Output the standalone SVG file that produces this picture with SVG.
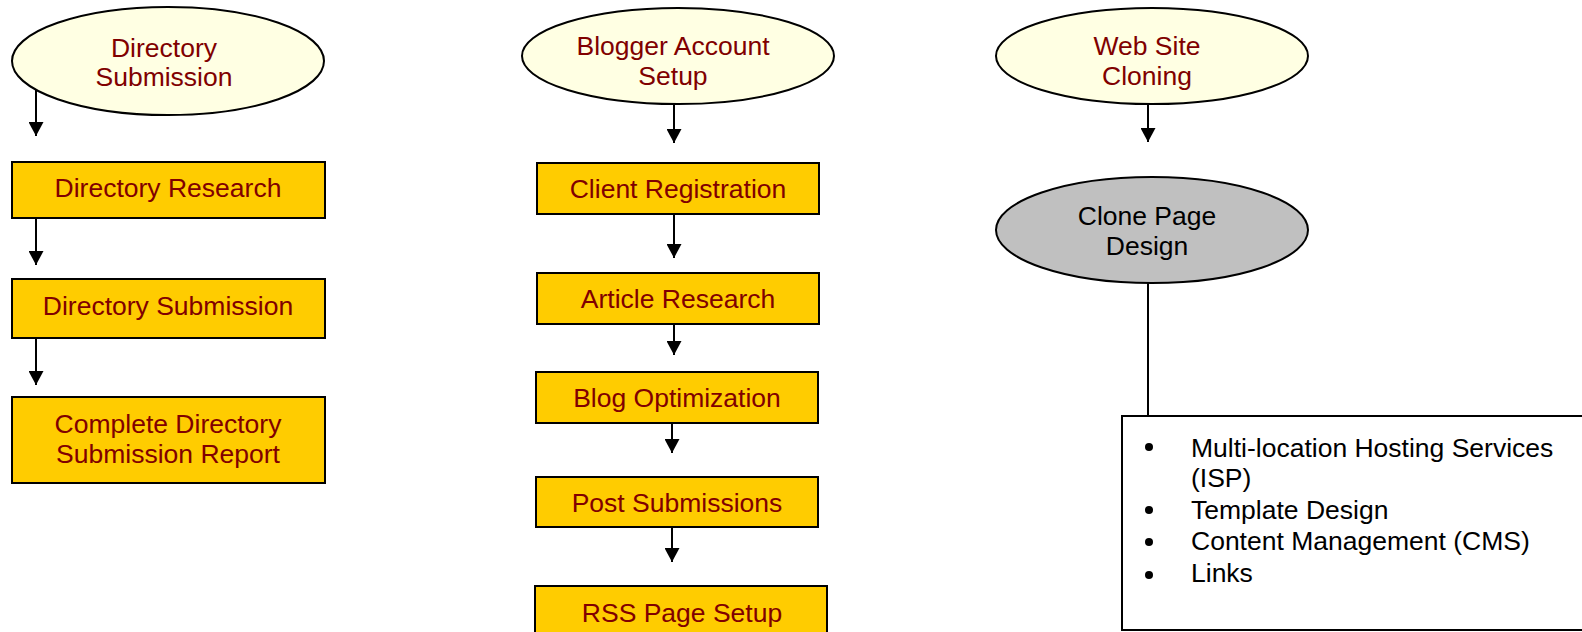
<svg xmlns="http://www.w3.org/2000/svg" width="1582" height="632" viewBox="0 0 1582 632">
<style>
.ell{fill:#FFFFE3;stroke:#000;stroke-width:2}
.gray{fill:#C0C0C0;stroke:#000;stroke-width:2}
.box{fill:#FFCC00;stroke:#000;stroke-width:2}
.plain{fill:#FFFFFF;stroke:#000;stroke-width:2}
.t{font-family:"Liberation Sans",Arial,sans-serif;font-size:26.5px;fill:#800000;text-anchor:middle}
.k{font-family:"Liberation Sans",Arial,sans-serif;font-size:26.5px;fill:#000;text-anchor:middle}
.b{font-family:"Liberation Sans",Arial,sans-serif;font-size:26.5px;fill:#000}
.c{stroke:#000;stroke-width:2;fill:none}
</style>
<defs>
<marker id="ah" markerUnits="userSpaceOnUse" markerWidth="15" markerHeight="15" refX="14" refY="7.5" orient="auto">
<path d="M0,0 L14,7.5 L0,15 z" fill="#000"/>
</marker>
</defs>
<rect width="1582" height="632" fill="#fff"/>
<g id="connectors">
<line class="c" x1="36" y1="90" x2="36" y2="136" marker-end="url(#ah)"/>
<line class="c" x1="36" y1="218" x2="36" y2="265" marker-end="url(#ah)"/>
<line class="c" x1="36" y1="338" x2="36" y2="385" marker-end="url(#ah)"/>
<line class="c" x1="674" y1="104" x2="674" y2="143" marker-end="url(#ah)"/>
<line class="c" x1="674" y1="214" x2="674" y2="258" marker-end="url(#ah)"/>
<line class="c" x1="674" y1="324" x2="674" y2="355" marker-end="url(#ah)"/>
<line class="c" x1="672" y1="423" x2="672" y2="453" marker-end="url(#ah)"/>
<line class="c" x1="672" y1="527" x2="672" y2="562" marker-end="url(#ah)"/>
<line class="c" x1="1148" y1="104" x2="1148" y2="142" marker-end="url(#ah)"/>
<line class="c" x1="1148" y1="283" x2="1148" y2="416"/>
</g>
<g id="n-dir-sub-ellipse">
<ellipse class="ell" cx="168" cy="61" rx="156" ry="54"/>
<text class="t" x="164" y="57">Directory</text>
<text class="t" x="164" y="86">Submission</text>
</g>
<g id="n-dir-research">
<rect class="box" x="12" y="162" width="313" height="56"/>
<text class="t" x="168" y="197">Directory Research</text>
</g>
<g id="n-dir-submission">
<rect class="box" x="12" y="279" width="313" height="59"/>
<text class="t" x="168" y="315">Directory Submission</text>
</g>
<g id="n-dir-report">
<rect class="box" x="12" y="397" width="313" height="86"/>
<text class="t" x="168" y="433">Complete Directory</text>
<text class="t" x="168" y="463">Submission Report</text>
</g>
<g id="n-blogger">
<ellipse class="ell" cx="678" cy="56" rx="156" ry="48"/>
<text class="t" x="673" y="55">Blogger Account</text>
<text class="t" x="673" y="85">Setup</text>
</g>
<g id="n-client-reg">
<rect class="box" x="537" y="163" width="282" height="51"/>
<text class="t" x="678" y="198">Client Registration</text>
</g>
<g id="n-article">
<rect class="box" x="537" y="273" width="282" height="51"/>
<text class="t" x="678" y="308">Article Research</text>
</g>
<g id="n-blog-opt">
<rect class="box" x="536" y="372" width="282" height="51"/>
<text class="t" x="677" y="407">Blog Optimization</text>
</g>
<g id="n-post">
<rect class="box" x="536" y="477" width="282" height="50"/>
<text class="t" x="677" y="512">Post Submissions</text>
</g>
<g id="n-rss">
<rect class="box" x="535" y="586" width="292" height="60"/>
<text class="t" x="682" y="622">RSS Page Setup</text>
</g>
<g id="n-cloning">
<ellipse class="ell" cx="1152" cy="56" rx="156" ry="48"/>
<text class="t" x="1147" y="55">Web Site</text>
<text class="t" x="1147" y="85">Cloning</text>
</g>
<g id="n-clone-page">
<ellipse class="gray" cx="1152" cy="230" rx="156" ry="53"/>
<text class="k" x="1147" y="225">Clone Page</text>
<text class="k" x="1147" y="255">Design</text>
</g>
<g id="n-list">
<rect class="plain" x="1122" y="416" width="480" height="214"/>
<circle cx="1149" cy="447" r="4" fill="#000"/>
<circle cx="1149" cy="510" r="4" fill="#000"/>
<circle cx="1149" cy="542" r="4" fill="#000"/>
<circle cx="1149" cy="575" r="4" fill="#000"/>
<text class="b" x="1191" y="457">Multi-location Hosting Services</text>
<text class="b" x="1191" y="487">(ISP)</text>
<text class="b" x="1191" y="519">Template Design</text>
<text class="b" x="1191" y="550">Content Management (CMS)</text>
<text class="b" x="1191" y="582">Links</text>
</g>
</svg>
